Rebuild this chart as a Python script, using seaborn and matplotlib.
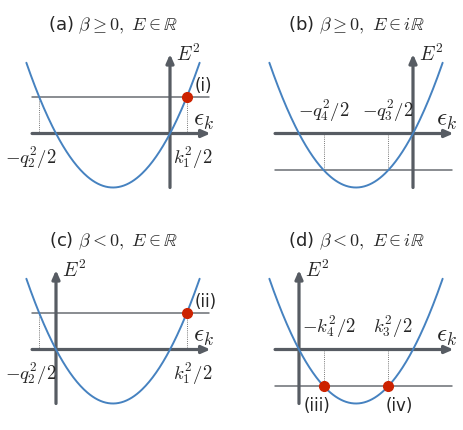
import matplotlib.pyplot as plt
import numpy as np
import pandas as pd
import seaborn as sns

sns.set_style("white")
plt.rcParams["font.family"] = ["DejaVu Sans"]
plt.rcParams["mathtext.fontset"] = "cm"

# Panels: (a) beta>=0 E real, (b) beta>=0 E imag, (c) beta<0 E real, (d) beta<0 E imag
panel_tags = ["(a)", "(b)", "(c)", "(d)"]
panel_conds = [r"$\beta \geq 0,\ E \in \mathbb{R}$",
               r"$\beta \geq 0,\ E \in i\mathbb{R}$",
               r"$\beta < 0,\ E \in \mathbb{R}$",
               r"$\beta < 0,\ E \in i\mathbb{R}$"]
vertex_x = [-1.0, -1.0, 1.0, 1.0]   # parabola minimum position (eps_k)
vertex_y = [-1.0, -1.0, -1.0, -1.0]  # parabola minimum value (E^2)
levels = [0.685, -0.685, 0.685, -0.685]  # E^2 level lines
left_labels = [r"$-q_2^2/2$", r"$-q_4^2/2$", r"$-q_2^2/2$", r"$-k_4^2/2$"]
right_labels = [r"$k_1^2/2$", r"$-q_3^2/2$", r"$k_1^2/2$", r"$k_3^2/2$"]
dot_tags = [["(i)"], [], ["(ii)"], ["(iii)", "(iv)"]]
curve_top = 1.31

BLUE = "#4682c0"
GRAY = "#575c63"
LEVEL = "#6a6e73"
RED = "#cc2200"

W, H = 463, 431
fig = plt.figure(figsize=(W / 100, H / 100), dpi=100)
ux, uy = 57.0, 54.0  # pixels per unit
col_x0 = [0, 243, 0, 243]
row_y0 = [0, 0, 216, 216]
pw, ph = 220, 215
origin_py = 134.5

for i in range(4):
    ax = fig.add_axes([col_x0[i] / W, 1 - (row_y0[i] + ph) / H, pw / W, ph / H])
    ax.set_axis_off()
    v = vertex_x[i]
    ax.set_xlim(v - 113 / ux, v + (pw - 113) / ux)
    ax.set_ylim(-(ph - origin_py) / uy, origin_py / uy)

    # parabola E^2 = (eps - v)^2 + vmin
    half = np.sqrt(curve_top - vertex_y[i])
    xs = np.linspace(v - half, v + half, 200)
    df = pd.DataFrame({"eps": xs, "E2": (xs - v) ** 2 + vertex_y[i]})
    sns.lineplot(data=df, x="eps", y="E2", ax=ax, color=BLUE, lw=1.4,
                 sort=False, zorder=3)

    x_lo, x_hi = v - 1.42, v + 1.69
    # level line
    ax.plot([x_lo, x_hi], [levels[i], levels[i]], color=LEVEL, lw=1.1, zorder=1)
    # eps axis and E^2 axis
    ax.annotate("", xy=(x_hi + 0.02, 0), xytext=(x_lo, 0),
                arrowprops=dict(arrowstyle="-|>,head_length=0.5,head_width=0.22",
                                color=GRAY, lw=2.3, shrinkA=0, shrinkB=0), zorder=2)
    ax.annotate("", xy=(0, 1.47), xytext=(0, vertex_y[i]),
                arrowprops=dict(arrowstyle="-|>,head_length=0.5,head_width=0.22",
                                color=GRAY, lw=2.3, shrinkA=0, shrinkB=0), zorder=2)

    # crossings of the level line with the parabola
    d = np.sqrt(levels[i] - vertex_y[i])
    cross = [v - d, v + d]
    for cx in cross:
        ax.plot([cx, cx], [0, levels[i]], color="#777777", lw=0.7, ls=(0, (1, 1.2)), zorder=1)

    if levels[i] > 0:
        ax.text(cross[0] - 0.15, -0.2, left_labels[i], ha="center", va="top", fontsize=13.5)
        ax.text(cross[1] + 0.1, -0.2, right_labels[i], ha="center", va="top", fontsize=13.5)
        ax.plot([cross[1]], [levels[i]], "o", color=RED, ms=7, zorder=4)
        ax.text(cross[1] + 0.14, levels[i] + 0.04, dot_tags[i][0], ha="left",
                va="bottom", fontsize=12)
    else:
        shift = 0.09 if dot_tags[i] else 0.0
        ax.text(cross[0] + shift, 0.2, left_labels[i], ha="center", va="bottom", fontsize=13.5)
        ax.text(cross[1] + shift, 0.2, right_labels[i], ha="center", va="bottom", fontsize=13.5)
        if dot_tags[i]:
            ax.plot(cross, [levels[i]] * 2, "o", color=RED, ms=7, zorder=4, ls="none")
            ax.text(cross[0] - 0.12, levels[i] - 0.17, dot_tags[i][0], ha="center",
                    va="top", fontsize=12)
            ax.text(cross[1] + 0.19, levels[i] - 0.17, dot_tags[i][1], ha="center",
                    va="top", fontsize=12)

    ax.text(0.1, 1.49, r"$E^2$", ha="left", va="center", fontsize=14)
    ax.text(x_hi - 0.1, 0.27, r"$\epsilon_k$", ha="center", va="center", fontsize=18)
    ax.text(v, 2.03, panel_tags[i] + " " + panel_conds[i], ha="center", va="center",
            fontsize=13)

fig.savefig("out.png", dpi=100)
